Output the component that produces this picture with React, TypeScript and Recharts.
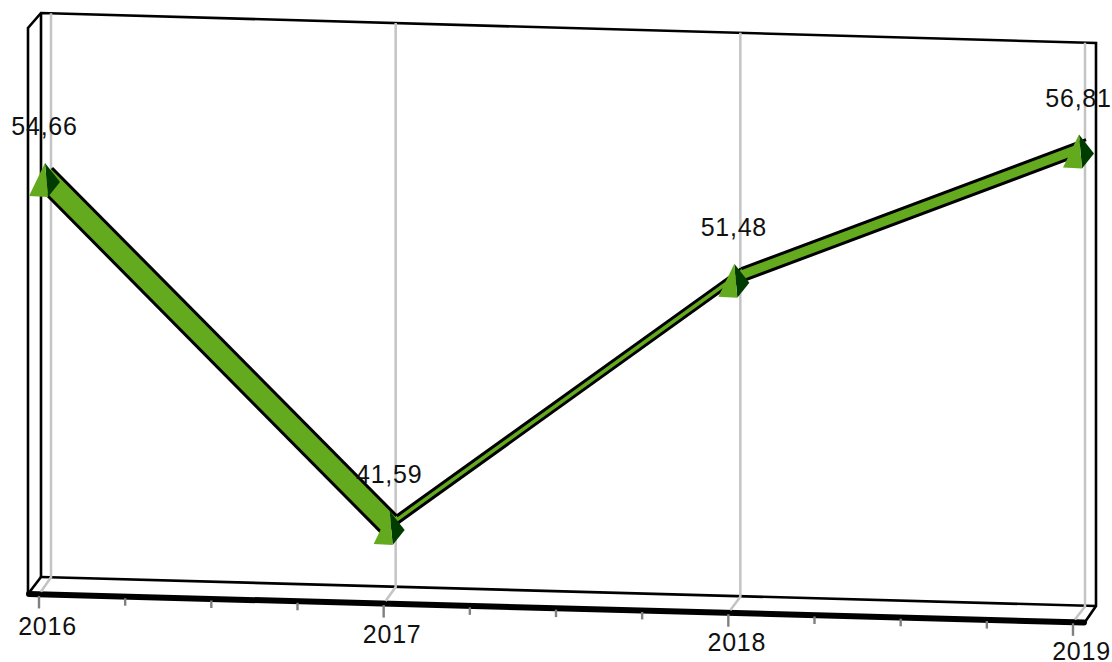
import React from "react";
import { ComposedChart, Line, XAxis, YAxis, Customized } from "recharts";

const years = [2016, 2017, 2018, 2019];
const values = [54.66, 41.59, 51.48, 56.81];
const axisTicks = [
  2016, 2016.25, 2016.5, 2016.75, 2017, 2017.25, 2017.5, 2017.75, 2018, 2018.25, 2018.5, 2018.75, 2019,
];
const rows = years.map((year, i) => ({ year, value: values[i] }));

const GREEN = "#64aa1e";
const DARK = "#003c00";
const GRID = "#c4c4c4";
const FONT = "'Liberation Sans', Arial, sans-serif";
const FONT_SIZE = 25;
const SPACING = 0.75;

// oblique projection of the flat plot: x-dependent drop and depth half vector
const ORIGIN_X = 45;
const SLOPE = 0.0265;
const drop = (x: number) => SLOPE * (x - ORIGIN_X);
const DEPTH_X = 7;
const DEPTH_Y = 9;

const poly = (pts: number[][]) => pts.map((p) => p.join(",")).join(" ");

const frontOf = (x: number) => {
  const fx = x - 6;
  return [fx, 594.6 + drop(fx)];
};

const gridLine = (x: number, key: number) => {
  const backX = x + 6;
  const rise = 0.0284 * (backX - 41);
  const [fx, fy] = frontOf(x);
  const bottom = 577 + rise;
  // the slanted foot stops at the upper side of the heavy front edge
  const t = 0.84;
  return (
    <polyline
      key={`g${key}`}
      points={poly([
        [backX, 13 + rise],
        [backX, bottom],
        [backX + (fx - backX) * t, bottom + (fy - bottom) * t],
      ])}
      fill="none"
      stroke={GRID}
      strokeWidth={2.5}
    />
  );
};

const ribbon = (a: any, b: any, key: number) => {
  const ax = a.x;
  const ay = a.y + drop(a.x);
  const bx = b.x;
  const by = b.y + drop(b.x);
  return (
    <g key={`r${key}`}>
      <polygon
        points={poly([
          [ax + DEPTH_X, ay - DEPTH_Y],
          [bx + DEPTH_X, by - DEPTH_Y],
          [bx - DEPTH_X, by + DEPTH_Y],
          [ax - DEPTH_X, ay + DEPTH_Y],
        ])}
        fill={GREEN}
      />
      <line x1={ax + DEPTH_X} y1={ay - DEPTH_Y} x2={bx + DEPTH_X} y2={by - DEPTH_Y} stroke="#000" strokeWidth={3} />
      <line x1={ax - DEPTH_X} y1={ay + DEPTH_Y} x2={bx - DEPTH_X} y2={by + DEPTH_Y} stroke="#000" strokeWidth={3} />
    </g>
  );
};

const Mark = (props: any) => {
  const { cx, cy, index, points } = props;
  const x = cx;
  const y = cy + drop(cx);
  const apex = [x, y - 14];
  const baseL = [x - 16, y + 19];
  const baseR = [x + 3, y + 20];
  const right = [x + 15, y + 5];
  return (
    <g key={`m${index}`}>
      {index === 0 && points.map((p: any, i: number) => gridLine(p.x, i))}
      {index === 0 && points.slice(0, -1).map((p: any, i: number) => ribbon(p, points[i + 1], i))}
      <polygon points={poly([apex, baseR, right])} fill={DARK} />
      <polygon points={poly([apex, baseL, baseR])} fill={GREEN} />
    </g>
  );
};

const ValueLabel = (props: any) => {
  const { x, y, value, index } = props;
  return (
    <text
      key={`l${index}`}
      x={x - 0.5}
      y={y + drop(x) - 42}
      textAnchor="middle"
      fontFamily={FONT}
      fontSize={FONT_SIZE}
      letterSpacing={SPACING}
      fill="#111"
    >
      {Number(value).toFixed(2).replace(".", ",")}
    </text>
  );
};

const Tick = (props: any) => {
  const { x, payload, index } = props;
  const isYear = Number.isInteger(payload.value);
  const [frontX, frontY] = frontOf(x);
  return (
    <g key={`t${index}`}>
      <line x1={frontX} y1={frontY + 1.5} x2={frontX} y2={frontY + (isYear ? 14 : 9)} stroke="#808080" strokeWidth={2.4} />
      {isYear && (
        <text
          x={x + 2.5}
          y={634.5 + drop(x) * 0.93}
          textAnchor="middle"
          fontFamily={FONT}
          fontSize={FONT_SIZE}
          letterSpacing={SPACING}
          fill="#111"
        >
          {payload.value}
        </text>
      )}
    </g>
  );
};

const Frame = () => (
  <g fill="none" stroke="#000" strokeWidth={2.6} strokeLinejoin="miter">
    <polyline points="28,594 28,28 41,13 1096,43 1096,606 1085,622" />
    <line x1={41} y1={13} x2={41} y2={577} />
    <line x1={41} y1={577} x2={28} y2={594} />
    <line x1={41} y1={577} x2={1096} y2={606} />
  </g>
);

const FrontEdge = () => (
  <line x1={29} y1={594} x2={1084} y2={622.5} stroke="#000" strokeWidth={6} strokeLinecap="round" />
);

export default function App() {
  return (
    <div style={{ position: "absolute", left: 0, top: 0, width: 1112, height: 662, background: "#fff" }}>
      <ComposedChart
        width={1112}
        height={662}
        data={rows}
        margin={{ top: 38.5, right: 33, bottom: 65, left: 45 }}
      >
        <Customized component={<Frame />} />
        <XAxis
          dataKey="year"
          type="number"
          domain={[2016, 2019]}
          ticks={axisTicks}
          interval={0}
          height={40}
          axisLine={false}
          tickLine={false}
          tick={<Tick />}
        />
        <YAxis type="number" domain={[40, 60]} hide />
        <Customized component={<FrontEdge />} />
        <Line
          dataKey="value"
          stroke="none"
          isAnimationActive={false}
          dot={(p: any) => <Mark {...p} />}
          activeDot={false}
          label={(p: any) => <ValueLabel {...p} />}
        />
      </ComposedChart>
    </div>
  );
}
